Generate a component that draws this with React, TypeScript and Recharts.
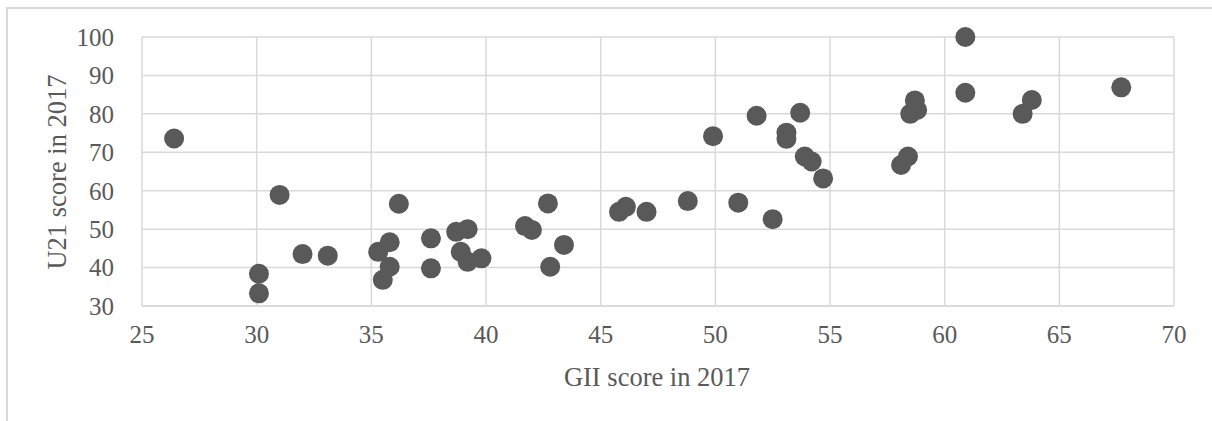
import { ScatterChart, Scatter, XAxis, YAxis, CartesianGrid, Label } from 'recharts'

// GII score (x) and U21 score (y), 2017
const gii = [
  26.4, 30.1, 30.1, 31.0, 32.0, 33.1, 35.3, 35.8, 35.8, 35.5, 36.2, 37.6, 37.6,
  38.7, 39.2, 38.9, 39.2, 39.8, 41.7, 42.0, 42.7, 42.8, 43.4, 45.8, 46.1, 47.0,
  48.8, 49.9, 51.0, 51.8, 52.5, 53.1, 53.1, 53.7, 53.9, 54.2, 54.7, 58.1, 58.4,
  58.5, 58.8, 58.7, 60.9, 60.9, 63.4, 63.8, 67.7,
]
const u21 = [
  73.6, 38.4, 33.3, 58.9, 43.5, 43.1, 44.1, 46.6, 40.2, 36.8, 56.6, 47.6, 39.8,
  49.3, 50.0, 44.1, 41.5, 42.4, 50.8, 49.8, 56.7, 40.2, 45.9, 54.5, 55.8, 54.5,
  57.3, 74.2, 56.9, 79.5, 52.6, 75.1, 73.5, 80.3, 68.9, 67.6, 63.2, 66.7, 68.9,
  80.0, 81.0, 83.5, 100.0, 85.5, 80.0, 83.6, 86.9,
]
const xTicks = [25, 30, 35, 40, 45, 50, 55, 60, 65, 70]
const yTicks = [30, 40, 50, 60, 70, 80, 90, 100]

const points = gii.map((x, i) => ({ x, y: u21[i] }))

const GRID = '#d9d9d9'
const INK = '#595959'
const FONT = '"Liberation Serif", "Times New Roman", serif'

const Dot = (props: any) => <circle cx={props.cx} cy={props.cy} r={10} fill={INK} />

export default function App() {
  return (
    <div style={{ position: 'fixed', left: 0, top: 0, width: 1212, height: 421, overflow: 'hidden', background: '#fff' }}>
      <div
        style={{
          position: 'absolute',
          left: 6,
          top: 7,
          width: 1300,
          height: 500,
          border: `2px solid ${GRID}`,
        }}
      />
      <div style={{ position: 'absolute', left: 0, top: 0 }}>
        <ScatterChart width={1212} height={421} margin={{ top: 37, right: 38, bottom: 75, left: 82 }}>
          <CartesianGrid stroke={GRID} strokeWidth={1.5} />
          <XAxis
            type='number'
            dataKey='x'
            domain={[25, 70]}
            ticks={xTicks}
            interval={0}
            height={40}
            axisLine={{ stroke: GRID, strokeWidth: 1.5 }}
            tickLine={false}
            tick={{ fill: INK, fontSize: 25, fontFamily: FONT }}
            tickMargin={13}
          >
            <Label
              content={() => (
                <text x={657} y={386} textAnchor='middle' fill={INK} fontSize={26.5} fontFamily={FONT}>
                  GII score in 2017
                </text>
              )}
            />
          </XAxis>
          <YAxis
            type='number'
            dataKey='y'
            domain={[30, 100]}
            ticks={yTicks}
            interval={0}
            width={60}
            axisLine={false}
            tickLine={false}
            tick={{ fill: INK, fontSize: 25, fontFamily: FONT }}
            tickMargin={22}
          >
            <Label
              content={() => (
                <text
                  x={57}
                  y={172}
                  transform='rotate(-90 57 172)'
                  textAnchor='middle'
                  dominantBaseline='central'
                  fill={INK}
                  fontSize={26.5}
                  fontFamily={FONT}
                >
                  U21 score in 2017
                </text>
              )}
            />
          </YAxis>
          <Scatter data={points} shape={Dot} isAnimationActive={false} />
        </ScatterChart>
      </div>
    </div>
  )
}
